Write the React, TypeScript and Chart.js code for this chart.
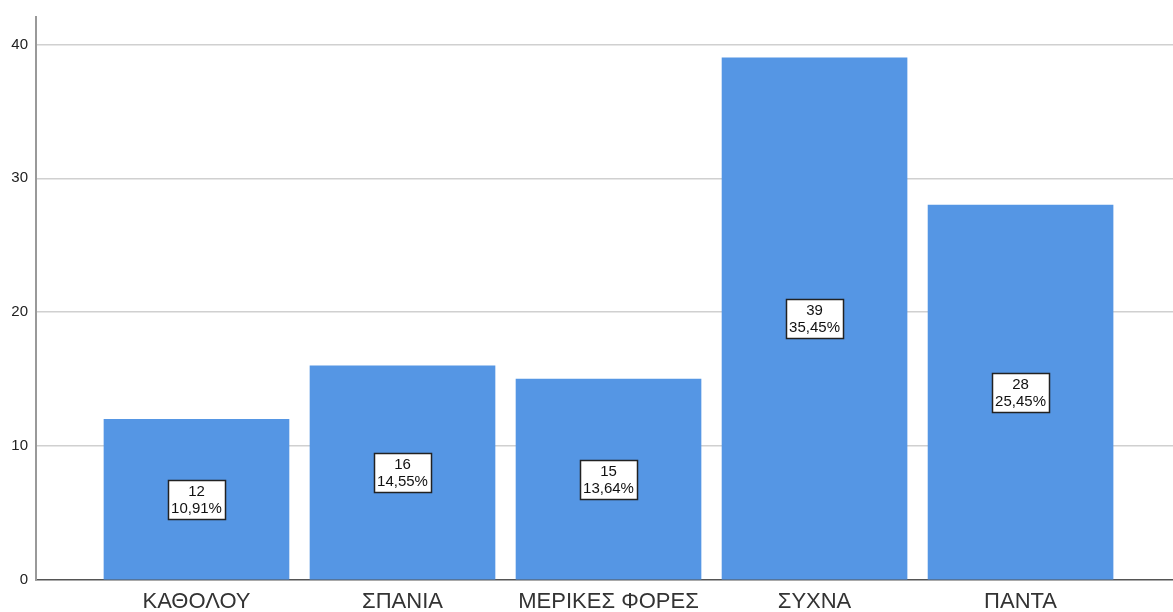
import React, { useEffect, useRef } from "react";
import { Chart, registerables } from "chart.js";

Chart.register(...registerables);

// Response categories and their counts
const CATEGORIES = ["ΚΑΘΟΛΟΥ", "ΣΠΑΝΙΑ", "ΜΕΡΙΚΕΣ ΦΟΡΕΣ", "ΣΥΧΝΑ", "ΠΑΝΤΑ"];
const COUNTS = [12, 16, 15, 39, 28];
const Y_TICKS = [0, 10, 20, 30, 40];

const TOTAL = COUNTS.reduce((a, b) => a + b, 0);
const PERCENT_LABELS = COUNTS.map(
  (c) => ((c / TOTAL) * 100).toFixed(2).replace(".", ",") + "%"
);

const BAR_COLOR = "rgb(85,150,228)";
const FONT = "'Liberation Sans', Arial, sans-serif";

// Draws the boxed "count / percent" label at the middle of each bar
const boxLabels = {
  id: "boxLabels",
  afterDatasetsDraw(chart: any) {
    const ctx = chart.ctx;
    const meta = chart.getDatasetMeta(0);
    const yScale = chart.scales.y;
    ctx.save();
    ctx.font = `15px ${FONT}`;
    ctx.textAlign = "center";
    ctx.textBaseline = "middle";
    meta.data.forEach((bar: any, i: number) => {
      const cx = bar.x;
      const cy = yScale.getPixelForValue(COUNTS[i] / 2);
      const l1 = String(COUNTS[i]);
      const l2 = PERCENT_LABELS[i];
      const w = Math.max(ctx.measureText(l1).width, ctx.measureText(l2).width) + 6;
      const h = 39;
      const x0 = Math.round(cx - w / 2) + 0.5;
      const y0 = Math.round(cy - h / 2) + 0.5;
      ctx.fillStyle = "#ffffff";
      ctx.fillRect(x0, y0, Math.round(w), h);
      ctx.strokeStyle = "#222222";
      ctx.lineWidth = 1.5;
      ctx.strokeRect(x0, y0, Math.round(w), h);
      ctx.fillStyle = "#111111";
      ctx.fillText(l1, cx, cy - 8);
      ctx.fillText(l2, cx, cy + 9);
    });
    ctx.restore();
  },
};

export default function App() {
  const canvasRef = useRef<HTMLCanvasElement | null>(null);

  useEffect(() => {
    if (!canvasRef.current) return;
    const chart = new Chart(canvasRef.current, {
      type: "bar",
      data: {
        datasets: [
          {
            data: COUNTS.map((v, i) => ({ x: i, y: v })),
            backgroundColor: BAR_COLOR,
            borderWidth: 0,
            barThickness: 185,
          },
        ],
      },
      options: {
        animation: false,
        responsive: false,
        maintainAspectRatio: false,
        layout: { padding: { top: 15, right: 0, left: 0, bottom: 0 } },
        plugins: {
          legend: { display: false },
          tooltip: { enabled: false },
        },
        scales: {
          x: {
            type: "linear",
            min: -0.779,
            max: 4.74,
            offset: false,
            grid: { display: false, drawTicks: false },
            border: { display: true, color: "#555555", width: 1.5 },
            afterBuildTicks: (scale: any) => {
              scale.ticks = CATEGORIES.map((_, i) => ({ value: i }));
            },
            afterFit: (scale: any) => {
              scale.height = 32;
            },
            ticks: {
              autoSkip: false,
              maxRotation: 0,
              padding: 9,
              color: "#333333",
              font: { family: FONT, size: 22 },
              callback: (v: any) => CATEGORIES[v as number] ?? "",
            },
          },
          y: {
            min: 0,
            max: 42.05,
            grid: {
              color: (c: any) => (c.tick && c.tick.value === 0 ? "rgba(0,0,0,0)" : "#d0d0d0"),
              lineWidth: 1.5,
              drawTicks: false,
            },
            border: { display: true, color: "#999999", width: 2 },
            afterBuildTicks: (scale: any) => {
              scale.ticks = Y_TICKS.map((v) => ({ value: v }));
            },
            afterFit: (scale: any) => {
              scale.width = 36;
            },
            ticks: {
              padding: 8,
              color: "#222222",
              font: { family: FONT, size: 15 },
            },
          },
        },
      },
      plugins: [boxLabels],
    });
    return () => chart.destroy();
  }, []);

  return (
    <div style={{ position: "fixed", left: 0, top: 0, width: 1173, height: 612, background: "#fff" }}>
      <canvas ref={canvasRef} width={1173} height={612} style={{ display: "block" }} />
    </div>
  );
}
